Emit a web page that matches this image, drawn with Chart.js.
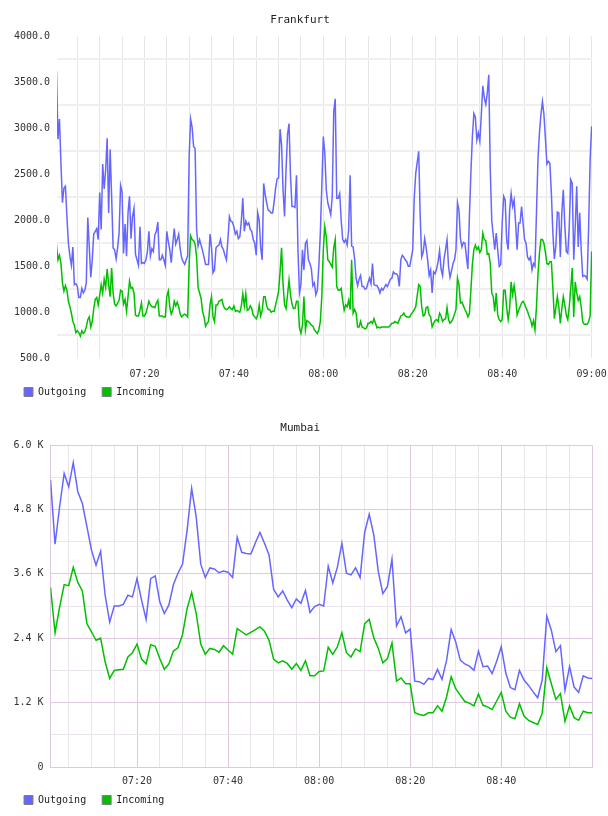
<!DOCTYPE html>
<html>
<head>
<meta charset="utf-8">
<script src="https://cdn.jsdelivr.net/npm/chart.js@4.4.1/dist/chart.umd.min.js"></script>
<style>
  body { margin: 0; background: #fff; }
  canvas { display: block; }
</style>
</head>
<body>
<canvas id="frankfurt" width="608" height="408"></canvas>
<canvas id="mumbai" width="608" height="408"></canvas>
<script>
// Frankfurt: one sample every 20 s from 07:00:20 to 09:00:00
const frankfurtTimes = Array.from({ length: 360 }, (_, i) => 20 + i * 20);

const frankfurtOutgoing = [
  3620, 2880, 3100, 2620, 2190, 2350, 2370, 2040, 1750, 1610,
  1510, 1710, 1300, 1310, 1280, 1160, 1160, 1260, 1210, 1240,
  1320, 2030, 1710, 1380, 1570, 1850, 1880, 1910, 1790, 2300,
  1900, 2610, 2340, 2550, 2890, 2080, 2770, 2260, 1700, 1680,
  1580, 1700, 1860, 2380, 2310, 1640, 1960, 1610, 2080, 2260,
  1800, 2040, 2130, 1630, 1570, 1510, 1930, 1530, 1540, 1530,
  1570, 1660, 1880, 1610, 1690, 1660, 1840, 1880, 1980, 1570,
  1570, 1620, 1570, 1510, 1880, 1770, 1680, 1540, 1740, 1910,
  1740, 1790, 1850, 1690, 1590, 1550, 1520, 1570, 1610, 2690,
  3100, 3010, 2800, 2780, 1900, 1720, 1790, 1730, 1670, 1600,
  1520, 1520, 1520, 1850, 1710, 1430, 1460, 1700, 1720, 1730,
  1790, 1710, 1680, 1620, 1570, 1790, 2040, 1990, 1980, 1930,
  1850, 1880, 1800, 1820, 1990, 2240, 1880, 1990, 1950, 1970,
  1900, 1880, 1790, 1750, 1620, 2080, 2000, 1700, 1570, 2400,
  2280, 2190, 2110, 2100, 2080, 2080, 2200, 2350, 2450, 2460,
  2990, 2820, 2330, 2040, 2550, 2930, 3050, 2480, 2150, 2150,
  2140, 2490, 1680, 1210, 1300, 1680, 1460, 1750, 1780, 1570,
  1530, 1470, 1290, 1320, 1190, 1240, 1500, 1860, 2370, 2910,
  2730, 2330, 2190, 2130, 2060, 2260, 3180, 3320, 2240, 2240,
  2290, 2000, 1790, 1760, 1790, 1730, 1900, 2490, 1720, 1710,
  1580, 1370, 1290, 1360, 1400, 1280, 1280, 1250, 1260, 1320,
  1370, 1310, 1530, 1300, 1290, 1290, 1260, 1210, 1260, 1240,
  1270, 1300, 1280, 1320, 1360, 1370, 1440, 1420, 1420, 1400,
  1280, 1570, 1620, 1600, 1570, 1550, 1500, 1500, 1590, 1680,
  2240, 2510, 2630, 2750, 2040, 1600, 1650, 1800, 1700, 1570,
  1400, 1460, 1210, 1440, 1420, 1470, 1550, 1670, 1470, 1400,
  1580, 1680, 1790, 1500, 1380, 1450, 1530, 1570, 1680, 2190,
  2110, 1800, 1710, 1760, 1750, 1600, 1470, 2040, 2510, 2910,
  3160, 3120, 2870, 2950, 2860, 3150, 3460, 3330, 3260, 3380,
  3580, 2550, 2000, 1840, 1680, 1860, 1680, 1500, 1520, 1970,
  2260, 2220, 1790, 1680, 2110, 2290, 2150, 2220, 1970, 1680,
  1970, 1970, 2150, 1970, 1790, 1750, 1600, 1570, 1600, 1460,
  1530, 1500, 2080, 2660, 2950, 3150, 3290, 3150, 2890, 2610,
  2640, 2620, 2290, 1860, 1580, 1720, 2090, 2080, 1600, 2080,
  2330, 1950, 1660, 1640, 1930, 2440, 2400, 1570, 1930, 2370,
  1710, 2080, 1680, 1390, 1400, 1390, 1360, 1930, 2660, 3020
];

const frankfurtIncoming = [
  1730, 1570, 1620, 1530, 1320, 1230, 1290, 1240, 1120, 1060,
  990, 900, 860, 780, 800, 780, 740, 800, 770, 790,
  840, 920, 950, 840, 900, 1040, 1140, 1160, 1080, 1190,
  1300, 1210, 1360, 1270, 1470, 1300, 1170, 1480, 1210, 1090,
  1070, 1100, 1130, 1240, 1230, 1090, 1140, 1010, 1170, 1340,
  1260, 1270, 1210, 970, 960, 960, 1020, 1100, 960, 960,
  990, 1050, 1120, 1080, 1060, 1060, 1050, 1100, 1130, 960,
  960, 960, 950, 950, 1170, 1230, 1060, 980, 1020, 1120,
  1070, 1110, 1060, 980, 950, 970, 980, 970, 950, 1530,
  1830, 1790, 1780, 1740, 1600, 1270, 1210, 1150, 1010, 950,
  850, 880, 900, 1080, 1170, 950, 900, 1080, 1080, 1120,
  1130, 1140, 1070, 1040, 1030, 1040, 1060, 1040, 1030, 1070,
  1010, 1020, 1010, 1000, 1070, 1200, 1070, 1200, 1020, 1030,
  1070, 1040, 970, 950, 930, 970, 1080, 960, 1020, 1170,
  1170, 1070, 1030, 1030, 1000, 1010, 1010, 1080, 1150, 1230,
  1440, 1700, 1300, 1080, 1040, 1190, 1350, 1190, 1090, 1040,
  1040, 1120, 1120, 830, 770, 860, 1170, 810, 910, 900,
  880, 860, 850, 810, 790, 770, 810, 900, 1170, 1680,
  1930, 1820, 1570, 1550, 1520, 1490, 1700, 1790, 1280, 1240,
  1240, 1260, 1130, 1020, 1080, 1060, 1130, 1030, 1570, 990,
  1030, 990, 840, 840, 900, 840, 830, 820, 830, 880,
  880, 900, 880, 930, 880, 830, 840, 830, 840, 840,
  840, 840, 840, 840, 860, 880, 880, 900, 890, 880,
  920, 960, 970, 990, 960, 950, 950, 950, 980, 1000,
  1030, 1060, 1180, 1300, 1280, 1060, 960, 970, 1050, 1060,
  970, 950, 840, 880, 910, 920, 900, 990, 960, 900,
  920, 930, 1050, 920, 880, 900, 930, 980, 1030, 1370,
  1300, 1100, 1110, 1070, 1030, 1000, 950, 990, 1240, 1520,
  1680, 1730, 1680, 1710, 1650, 1680, 1860, 1790, 1780, 1630,
  1640, 1530, 1210, 1170, 1010, 1210, 970, 920, 900, 920,
  1240, 1240, 1050, 920, 1040, 1330, 1190, 1290, 1170, 970,
  1020, 1060, 1100, 1120, 1090, 1050, 1010, 960, 920, 850,
  910, 810, 1060, 1410, 1640, 1790, 1790, 1750, 1650, 1530,
  1520, 1550, 1550, 1260, 930, 1050, 1170, 1060, 880, 1040,
  1170, 1080, 970, 920, 1060, 1260, 1480, 950, 1330, 1210,
  1130, 1170, 1060, 900, 870, 870, 870, 900, 960, 1660
];

// Mumbai: one sample per minute from 07:01 to 09:00
const mumbaiTimes = Array.from({ length: 120 }, (_, i) => 60 + i * 60);

const mumbaiOutgoing = [
  5350, 4150, 4850, 5470, 5220, 5670, 5130, 4910, 4480, 4040,
  3760, 4020, 3200, 2700, 3000, 3000, 3030, 3200, 3170, 3510,
  3110, 2750, 3510, 3560, 3080, 2860, 3020, 3400, 3610, 3780,
  4410, 5190, 4660, 3780, 3530, 3710, 3690, 3620, 3650, 3630,
  3530, 4280, 4000, 3980, 3970, 4180, 4370, 4170, 3950, 3310,
  3170, 3280, 3110, 2970, 3130, 3050, 3290, 2880, 2990, 3030,
  3000, 3740, 3430, 3720, 4170, 3610, 3580, 3710, 3530, 4370,
  4710, 4330, 3640, 3230, 3360, 3870, 2630, 2800, 2500, 2570,
  1600, 1590, 1540, 1650, 1630, 1820, 1630, 1990, 2560, 2330,
  1990, 1920, 1880, 1800, 2160, 1870, 1880, 1740, 1970, 2240,
  1750, 1480, 1440, 1800, 1620, 1520, 1400, 1290, 1620, 2810,
  2550, 2150, 2260, 1430, 1870, 1490, 1390, 1700, 1660, 1650
];

const mumbaiIncoming = [
  3350, 2500, 2980, 3400, 3380, 3720, 3440, 3280, 2670, 2520,
  2360, 2400, 1960, 1650, 1800, 1810, 1820, 2050, 2130, 2290,
  2010, 1920, 2280, 2250, 2020, 1820, 1920, 2160, 2220, 2470,
  2950, 3250, 2860, 2290, 2100, 2210, 2190, 2140, 2260, 2180,
  2100, 2580, 2520, 2460, 2510, 2560, 2610, 2530, 2360, 2010,
  1940, 1980, 1930, 1820, 1930, 1800, 1980, 1700, 1700, 1780,
  1790, 2230, 2100, 2240, 2500, 2130, 2050, 2200, 2150, 2670,
  2750, 2410, 2210, 1940, 2020, 2310, 1600, 1660, 1550, 1550,
  1010, 980, 960, 1010, 1010, 1140, 1040, 1310, 1680, 1460,
  1340, 1220, 1190, 1140, 1360, 1150, 1120, 1070, 1230, 1390,
  1040, 930, 900, 1180, 950, 870, 830, 790, 1000, 1850,
  1550, 1260, 1370, 850, 1140, 920, 870, 1040, 1010, 1010
];

const seriesLabels = ['Outgoing', 'Incoming'];
const seriesColors = ['#6666ff', '#00c000'];

Chart.defaults.font.family = "'DejaVu Sans Mono', monospace";
Chart.defaults.font.size = 10;
Chart.defaults.color = '#333';

function clock(sec) {
  const h = 7 + Math.floor(sec / 3600);
  const m = Math.floor((sec % 3600) / 60);
  return String(h).padStart(2, '0') + ':' + String(m).padStart(2, '0');
}

function points(times, values) {
  return values.map((v, i) => ({ x: times[i], y: v }));
}

function stepTicks(from, to, step) {
  const out = [];
  for (let v = from; v <= to; v += step) out.push({ value: v });
  return out;
}

function legendItems(chart) {
  return chart.data.datasets.map((ds, i) => ({
    text: ds.label,
    fillStyle: ds.borderColor,
    strokeStyle: '#808080',
    lineWidth: 1,
    fontColor: '#222',
    hidden: false,
    datasetIndex: i
  }));
}

function datasets(times, outgoing, incoming) {
  return [outgoing, incoming].map((vals, i) => ({
    label: seriesLabels[i],
    data: points(times, vals),
    borderColor: seriesColors[i],
    backgroundColor: seriesColors[i],
    borderWidth: 1.5,
    pointRadius: 0,
    tension: 0,
    fill: false
  }));
}

function commonPlugins(title, titleBottom) {
  return {
    title: {
      display: true, text: title, color: '#222',
      font: { size: 11, weight: 'normal' },
      padding: { top: 14, bottom: titleBottom }
    },
    legend: {
      position: 'bottom', align: 'start',
      labels: { boxWidth: 9, boxHeight: 9, padding: 16, generateLabels: legendItems }
    },
    tooltip: { enabled: false }
  };
}

// the x axis box is kept short so the legend fits under it; mirrored ticks with a
// negative padding put the time labels back below the plot without being clipped
new Chart(document.getElementById('frankfurt'), {
  type: 'line',
  data: { datasets: datasets(frankfurtTimes, frankfurtOutgoing, frankfurtIncoming) },
  options: {
    responsive: false,
    animation: false,
    layout: { padding: { left: 8, right: 16, top: 0, bottom: 1 } },
    plugins: commonPlugins('Frankfurt', 9),
    scales: {
      x: {
        type: 'linear', min: 27, max: 7205,
        afterBuildTicks: s => { s.ticks = stepTicks(300, 7200, 300); },
        afterFit: s => { s.height = 12.7; },
        grid: { color: '#e6e6e6', lineWidth: 1, drawTicks: false },
        border: { display: false },
        ticks: {
          mirror: true, padding: -21.7, maxRotation: 0, autoSkip: false,
          callback: v => (v % 1200 === 0 ? clock(v) : '')
        }
      },
      y: {
        min: 500, max: 4000,
        afterBuildTicks: s => { s.ticks = stepTicks(500, 4000, 250); },
        afterFit: s => { s.width = 49; },
        grid: {
          color: c => (c.tick && c.tick.value % 500 === 0 ? 'rgba(0,0,0,0)' : '#efefef'),
          lineWidth: 2, drawTicks: false
        },
        border: { display: false },
        ticks: {
          padding: 7, autoSkip: false,
          callback: v => (v % 500 === 0 ? v.toFixed(1) : '')
        }
      }
    }
  }
});

const pinkMajor = '#e0c8e0';
const pinkMinor = '#ebe4ec';

new Chart(document.getElementById('mumbai'), {
  type: 'line',
  data: { datasets: datasets(mumbaiTimes, mumbaiOutgoing, mumbaiIncoming) },
  options: {
    responsive: false,
    animation: false,
    layout: { padding: { left: 8, right: 15.7, top: 0, bottom: 1 } },
    plugins: commonPlugins('Mumbai', 9.8),
    scales: {
      x: {
        type: 'linear', min: 60, max: 7200,
        afterBuildTicks: s => { s.ticks = stepTicks(300, 7200, 300); },
        afterFit: s => { s.height = 12; },
        grid: {
          color: c => (c.tick && (c.tick.value % 1200 === 0 || c.tick.value === 7200) ? pinkMajor : pinkMinor),
          lineWidth: 1, drawTicks: false
        },
        border: { display: true, color: pinkMajor },
        ticks: {
          mirror: true, padding: -20, maxRotation: 0, autoSkip: false,
          callback: v => (v % 1200 === 0 && v < 7200 ? clock(v) : '')
        }
      },
      y: {
        min: 0, max: 6000,
        afterBuildTicks: s => { s.ticks = stepTicks(0, 6000, 600); },
        afterFit: s => { s.width = 42.5; },
        grid: {
          color: c => (c.tick && c.tick.value % 1200 === 0 ? pinkMajor : pinkMinor),
          lineWidth: 1, drawTicks: false
        },
        border: { display: true, color: pinkMajor },
        ticks: {
          padding: 7, autoSkip: false,
          callback: v => (v % 1200 !== 0 ? '' : v === 0 ? '0' : (v / 1000).toFixed(1) + ' K')
        }
      }
    }
  }
});
</script>
</body>
</html>
